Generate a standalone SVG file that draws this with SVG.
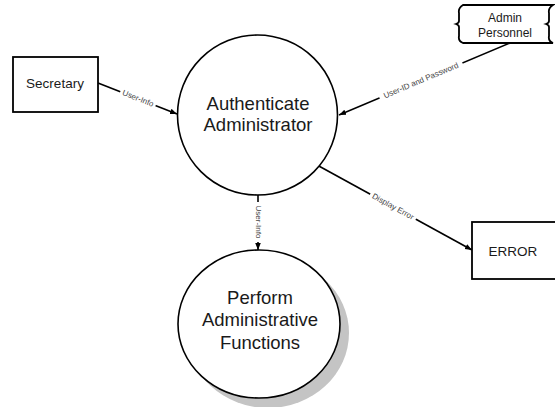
<svg xmlns="http://www.w3.org/2000/svg" width="555" height="407" viewBox="0 0 555 407">
<defs>
<style>
.box{fill:#fff;stroke:#000;stroke-width:1.8}
.proc{fill:#fff;stroke:#000;stroke-width:1.6}
.t{font-family:"Liberation Sans",Arial,sans-serif;fill:#1a1a1a;text-anchor:middle}
.big{font-size:18.5px}
.mid{font-size:13.5px}
.sm{font-size:12px}
.lbl{font-family:"Liberation Sans",Arial,sans-serif;font-size:8px;fill:#444;text-anchor:middle;dominant-baseline:central}
.flow{stroke:#000;stroke-width:1.6;fill:none;marker-end:url(#ah)}
.gap{fill:#fff}
</style>
<marker id="ah" viewBox="0 0 10 10" refX="10" refY="5" markerWidth="7" markerHeight="7" orient="auto" markerUnits="userSpaceOnUse">
<path d="M0,1 L10,5 L0,9 Z" fill="#000"/>
</marker>
</defs>
<rect width="555" height="407" fill="#fff"/>

<g id="connectors">
<line class="flow" x1="98" y1="83" x2="177" y2="114"/>
<g transform="translate(138,98.5) rotate(21.4)"><rect class="gap" x="-19" y="-5" width="38" height="10"/><text class="lbl" x="0" y="0">User-Info</text></g>

<line class="flow" x1="510" y1="43" x2="339" y2="115"/>
<g transform="translate(421,80.5) rotate(-22.8)"><rect class="gap" x="-45" y="-5" width="90" height="10"/><text class="lbl" x="0" y="0">User-ID and Password</text></g>

<line class="flow" x1="258" y1="193" x2="258" y2="250"/>
<g transform="translate(258,222) rotate(90)"><rect class="gap" x="-20" y="-5" width="40" height="10"/><text class="lbl" x="0" y="0">User-Info</text></g>

<line class="flow" x1="317" y1="165" x2="472" y2="250"/>
<g transform="translate(393,206.7) rotate(28.7)"><rect class="gap" x="-26" y="-5" width="52" height="10"/><text class="lbl" x="0" y="0">Display Error</text></g>
</g>

<g id="secretary">
<rect class="box" x="13" y="57" width="85" height="55"/>
<text class="t mid" x="55" y="88">Secretary</text>
</g>

<g id="admin-personnel">
<path class="box" d="M463,5 L553,5 Q548,8 549,13 L549,21 Q549,23 546,24 Q549,25 549,27 L549,36 Q548,41 553,43 L463,43 Q458,41 459,36 L459,27 Q459,25 456,24 Q459,23 459,21 L459,13 Q458,8 463,5 Z"/>
<text class="t sm" x="505" y="22">Admin</text>
<text class="t sm" x="505" y="37">Personnel</text>
</g>

<g id="authenticate">
<circle class="proc" cx="257.5" cy="115" r="80"/>
<text class="t big" x="258" y="110">Authenticate</text>
<text class="t big" x="258" y="131">Administrator</text>
</g>

<g id="perform">
<ellipse cx="268" cy="333" rx="81" ry="75" fill="#c4c4c4"/>
<ellipse class="proc" cx="259" cy="324" rx="81" ry="74"/>
<text class="t big" x="260" y="304">Perform</text>
<text class="t big" x="260" y="326">Administrative</text>
<text class="t big" x="260" y="349">Functions</text>
</g>

<g id="error">
<rect class="box" x="472" y="222" width="95" height="57"/>
<text class="t mid" x="513" y="256">ERROR</text>
</g>
</svg>
